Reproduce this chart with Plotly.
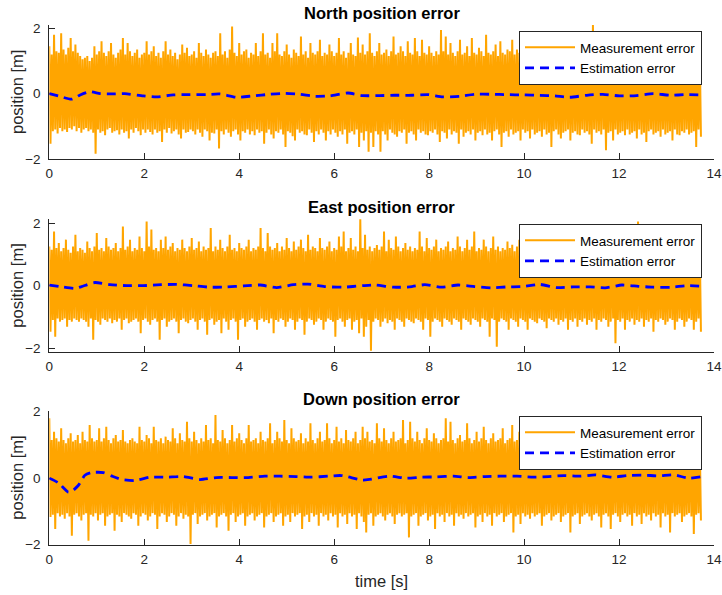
import numpy as np
import plotly.graph_objects as go
from plotly.subplots import make_subplots

# Measurement error: per 0.05 s window, the highest and lowest sample [m]
PEAK_STEP = 0.05

north_meas_hi = [
    1.45, 1.2, 1.8, 1.3, 1.25, 1.85, 1.35, 1.2, 1.4, 1.7, 1.3, 1.5, 1.25, 1.15, 1.05, 1.1, 1.15, 1.0, 1.1, 1.45,
    1.2, 1.3, 1.6, 1.25, 1.15, 1.3, 1.55, 1.2, 1.1, 1.25, 1.35, 1.7, 1.2, 1.55, 1.3, 1.15, 1.25, 1.35, 1.1, 1.2,
    1.25, 1.6, 1.2, 1.3, 1.45, 1.15, 1.25, 1.1, 1.3, 1.6, 1.2, 1.35, 1.15, 1.25, 1.05, 1.2, 1.5, 1.25, 1.4, 1.15,
    1.2, 1.3, 1.1, 1.55, 1.25, 1.15, 1.35, 1.2, 1.1, 1.25, 1.3, 1.15, 1.85, 1.2, 1.3, 1.1, 1.35, 2.05, 1.25, 1.15,
    1.55, 1.2, 1.3, 1.35, 1.1, 1.25, 1.2, 1.55, 1.15, 1.3, 1.85, 1.2, 1.25, 1.1, 1.55, 1.3, 1.85, 1.2, 1.15, 1.3,
    1.5, 1.2, 1.1, 1.35, 1.25, 1.15, 1.75, 1.2, 1.3, 1.1, 1.55, 1.25, 1.2, 1.3, 1.65, 1.15, 1.25, 1.2, 1.5, 1.3,
    1.15, 1.25, 1.7, 1.2, 1.3, 1.1, 1.25, 1.55, 1.2, 1.15, 1.72, 1.25, 1.5, 1.2, 1.3, 1.85, 1.25, 1.15, 1.3, 1.55,
    1.2, 1.25, 1.35, 1.15, 1.3, 1.75, 1.2, 1.25, 1.45, 1.3, 1.15, 1.6, 1.25, 1.2, 1.7, 1.3, 1.15, 1.65, 1.25, 1.2,
    1.45, 1.25, 1.15, 1.3, 1.2, 1.95, 1.3, 1.75, 1.2, 1.55, 1.25, 1.15, 1.3, 1.65, 1.2, 1.25, 1.45, 1.15, 1.7, 1.25,
    1.2, 1.4, 1.3, 1.15, 1.8, 1.25, 1.2, 1.3, 1.5, 1.15, 1.6, 1.25, 1.2, 1.35, 1.3, 1.65, 1.2, 1.35, 1.25, 1.15,
    1.3, 1.2, 1.45, 1.25, 1.15, 1.3, 1.5, 1.2, 1.25, 1.1, 1.35, 1.6, 1.2, 1.3, 1.15, 1.25, 1.4, 1.2, 1.3, 1.15,
    1.25, 1.5, 1.2, 1.3, 1.15, 1.35, 1.25, 1.2, 1.45, 2.1, 1.3, 1.2, 1.25, 1.6, 1.15, 1.3, 1.2, 1.4, 1.25, 1.15,
    1.3, 1.2, 1.55, 1.25, 1.15, 1.35, 1.2, 1.3, 1.5, 1.2, 1.25, 1.9, 1.2, 1.3, 1.15, 1.45, 1.25, 1.2, 1.35, 1.2,
    1.3, 1.15, 1.5, 1.25, 1.2, 1.35, 1.15, 1.6, 1.25, 1.2, 1.3, 1.45, 1.2, 1.25, 1.4,
]
north_meas_lo = [
    -1.53, -1.15, -1.1, -1.22, -1.05, -1.15, -1.1, -1.17, -1.05, -1.1, -1.0, -1.15, -1.05, -1.2, -1.1, -1.05, -1.15, -1.1, -1.2, -1.84,
    -1.1, -1.2, -1.15, -1.27, -1.1, -1.05, -1.2, -1.15, -1.12, -1.25, -1.1, -1.2, -1.15, -1.37, -1.1, -1.2, -1.05, -1.15, -1.27, -1.1,
    -1.2, -1.1, -1.17, -1.25, -1.1, -1.2, -1.15, -1.48, -1.1, -1.2, -1.05, -1.22, -1.15, -1.1, -1.25, -1.37, -1.1, -1.2, -1.17, -1.1,
    -1.15, -1.25, -1.1, -1.2, -1.32, -1.1, -1.15, -1.43, -1.2, -1.22, -1.1, -1.68, -1.15, -1.25, -1.1, -1.2, -1.32, -1.15, -1.1, -1.25,
    -1.43, -1.15, -1.2, -1.1, -1.25, -1.15, -1.27, -1.1, -1.2, -1.15, -1.53, -1.2, -1.1, -1.25, -1.37, -1.15, -1.2, -1.1, -1.25, -1.63,
    -1.15, -1.2, -1.3, -1.43, -1.1, -1.2, -1.15, -1.25, -1.27, -1.1, -1.2, -1.48, -1.15, -1.25, -1.1, -1.2, -1.43, -1.15, -1.25, -1.1,
    -1.2, -1.32, -1.15, -1.25, -1.1, -1.53, -1.2, -1.15, -1.25, -1.1, -1.63, -1.2, -1.43, -1.15, -1.78, -1.2, -1.63, -1.15, -1.25, -1.78,
    -1.15, -1.25, -1.43, -1.1, -1.2, -1.25, -1.32, -1.15, -1.2, -1.1, -1.53, -1.2, -1.15, -1.25, -1.43, -1.1, -1.2, -1.15, -1.25, -1.27,
    -1.15, -1.2, -1.1, -1.25, -1.48, -1.15, -1.2, -1.37, -1.1, -1.25, -1.15, -1.2, -1.53, -1.1, -1.32, -1.2, -1.15, -1.25, -1.1, -1.43,
    -1.2, -1.15, -1.27, -1.1, -1.25, -1.2, -1.43, -1.15, -1.1, -1.25, -1.63, -1.2, -1.15, -1.32, -1.1, -1.25, -1.2, -1.15, -1.43, -1.1,
    -1.2, -1.15, -1.37, -1.1, -1.25, -1.2, -1.15, -1.32, -1.1, -1.25, -1.2, -1.63, -1.15, -1.1, -1.25, -1.37, -1.2, -1.15, -1.1, -1.43,
    -1.2, -1.15, -1.25, -1.27, -1.1, -1.2, -1.15, -1.25, -1.53, -1.1, -1.2, -1.15, -1.25, -1.1, -1.73, -1.2, -1.15, -1.43, -1.1, -1.25,
    -1.2, -1.15, -1.27, -1.1, -1.25, -1.2, -1.15, -1.37, -1.1, -1.25, -1.2, -1.48, -1.15, -1.1, -1.25, -1.2, -1.15, -1.32, -1.1, -1.25,
    -1.2, -1.15, -1.43, -1.1, -1.25, -1.27, -1.15, -1.2, -1.1, -1.25, -1.2, -1.15, -1.63, -1.1, -1.32,
]

east_meas_hi = [
    1.25, 1.15, 1.73, 1.2, 1.36, 1.1, 1.2, 1.47, 1.15, 1.05, 1.25, 1.63, 1.1, 1.2, 1.15, 1.05, 1.41, 1.2, 1.1, 1.25,
    1.68, 1.15, 1.2, 1.1, 1.52, 1.25, 1.15, 1.2, 1.36, 1.1, 1.2, 1.89, 1.15, 1.25, 1.47, 1.1, 1.2, 1.15, 1.57, 1.2,
    1.1, 2.05, 1.25, 1.79, 1.15, 1.2, 1.1, 1.47, 1.2, 1.57, 1.15, 1.25, 1.36, 1.1, 1.2, 1.15, 1.47, 1.2, 1.1, 1.25,
    1.52, 1.15, 1.2, 1.41, 1.1, 1.25, 1.15, 1.2, 1.84, 1.1, 1.25, 1.15, 1.47, 1.2, 1.1, 1.25, 1.63, 1.15, 1.2, 1.1,
    1.36, 1.2, 1.15, 1.25, 1.47, 1.1, 1.2, 1.15, 1.25, 1.84, 1.2, 1.1, 1.68, 1.25, 1.15, 1.2, 1.36, 1.1, 1.25, 1.15,
    1.52, 1.2, 1.1, 1.41, 1.15, 1.25, 1.47, 1.2, 1.1, 1.63, 1.15, 1.25, 1.2, 1.1, 1.52, 1.2, 1.15, 1.25, 1.41, 1.1,
    1.2, 1.15, 1.57, 1.25, 1.73, 1.1, 1.2, 1.52, 1.15, 1.25, 1.1, 2.16, 1.2, 1.63, 1.15, 1.25, 1.1, 1.2, 1.3, 1.15,
    1.25, 1.73, 1.1, 1.47, 1.2, 1.15, 1.57, 1.25, 1.1, 1.2, 1.36, 1.15, 1.25, 1.1, 1.2, 1.15, 1.73, 1.25, 1.1, 1.52,
    1.2, 1.15, 1.25, 1.47, 1.1, 1.2, 1.15, 1.25, 1.41, 1.1, 1.2, 1.15, 1.57, 1.25, 1.1, 1.2, 1.47, 1.15, 1.25, 1.73,
    1.1, 1.2, 1.15, 1.47, 1.25, 1.1, 1.2, 1.57, 1.15, 1.25, 1.1, 1.2, 1.15, 1.41, 1.2, 1.31, 1.1, 1.25, 1.47, 1.2,
    1.15, 1.35, 1.2, 1.1, 1.25, 1.5, 1.15, 1.2, 1.1, 1.3, 1.25, 1.15, 1.45, 1.2, 1.1, 1.25, 1.2, 1.55, 1.15, 1.2,
    1.1, 1.25, 1.4, 1.15, 1.2, 1.3, 1.1, 1.25, 1.2, 1.5, 1.15, 1.2, 1.1, 1.35, 1.25, 1.15, 1.2, 1.45, 1.1, 1.25,
    1.2, 1.15, 1.3, 1.25, 1.1, 1.2, 1.4, 1.15, 2.05, 1.2, 1.1, 1.25, 1.35, 1.15, 1.2, 1.1, 1.5, 1.25, 1.15, 1.2,
    1.1, 1.3, 1.2, 1.15, 1.45, 1.25, 1.1, 1.2, 1.35, 1.15, 1.25, 1.1, 1.4, 1.2, 1.3,
]
east_meas_lo = [
    -1.47, -1.1, -1.63, -1.05, -1.15, -1.1, -1.05, -1.31, -1.1, -1.15, -1.05, -1.1, -1.15, -1.05, -1.1, -1.15, -1.31, -1.05, -1.73, -1.1,
    -1.15, -1.25, -1.05, -1.1, -1.15, -1.05, -1.2, -1.1, -1.15, -1.05, -1.41, -1.1, -1.05, -1.2, -1.15, -1.1, -1.05, -1.15, -1.52, -1.1,
    -1.05, -1.15, -1.25, -1.1, -1.05, -1.15, -1.73, -1.1, -1.05, -1.31, -1.15, -1.1, -1.05, -1.15, -1.52, -1.1, -1.05, -1.15, -1.2, -1.1,
    -1.05, -1.15, -1.41, -1.1, -1.05, -1.15, -1.57, -1.1, -1.05, -1.25, -1.15, -1.1, -1.52, -1.05, -1.15, -1.41, -1.1, -1.05, -1.15, -1.73,
    -1.1, -1.05, -1.31, -1.15, -1.1, -1.05, -1.15, -1.41, -1.1, -1.05, -1.15, -1.1, -1.2, -1.05, -1.52, -1.1, -1.15, -1.05, -1.1, -1.31,
    -1.15, -1.05, -1.1, -1.41, -1.15, -1.05, -1.1, -1.57, -1.15, -1.05, -1.1, -1.25, -1.15, -1.05, -1.1, -1.41, -1.15, -1.05, -1.1, -1.15,
    -1.63, -1.1, -1.05, -1.15, -1.31, -1.1, -1.05, -1.41, -1.15, -1.1, -1.52, -1.05, -1.63, -1.31, -1.1, -2.08, -1.15, -1.05, -1.1, -1.31,
    -1.15, -1.05, -1.2, -1.1, -1.15, -1.41, -1.05, -1.1, -1.15, -1.31, -1.05, -1.1, -1.15, -1.2, -1.05, -1.1, -1.15, -1.41, -1.05, -1.1,
    -1.63, -1.15, -1.05, -1.1, -1.15, -1.31, -1.05, -1.1, -1.15, -1.25, -1.05, -1.1, -1.15, -1.41, -1.05, -1.1, -1.15, -1.25, -1.05, -1.1,
    -1.15, -1.31, -1.05, -1.1, -1.15, -1.63, -1.05, -1.1, -1.95, -1.15, -1.05, -1.1, -1.15, -1.41, -1.05, -1.1, -1.15, -1.31, -1.05, -1.1,
    -1.15, -1.41, -1.05, -1.1, -1.15, -1.2, -1.05, -1.1, -1.15, -1.36, -1.05, -1.1, -1.15, -1.05, -1.25, -1.1, -1.15, -1.05, -1.41, -1.1,
    -1.15, -1.05, -1.31, -1.1, -1.15, -1.05, -1.25, -1.1, -1.15, -1.05, -1.41, -1.1, -1.15, -1.05, -1.1, -1.31, -1.15, -1.05, -1.84, -1.1,
    -1.15, -1.05, -1.41, -1.1, -1.15, -1.05, -1.25, -1.1, -1.15, -1.05, -1.31, -1.1, -1.15, -1.05, -1.47, -1.1, -1.15, -1.05, -1.1, -1.25,
    -1.15, -1.05, -1.1, -1.41, -1.15, -1.05, -1.1, -1.31, -1.15, -1.05, -1.1, -1.41, -1.15, -1.05, -1.47,
]

down_meas_hi = [
    1.8, 1.15, 1.4, 1.2, 1.1, 1.5, 1.15, 1.05, 1.2, 1.35, 1.1, 1.15, 1.3, 1.05, 1.4, 1.15, 1.1, 1.6, 1.2, 1.1,
    1.15, 1.5, 1.1, 1.2, 1.55, 1.15, 1.05, 1.2, 1.3, 1.1, 1.15, 1.45, 1.1, 1.05, 1.15, 1.2, 1.1, 1.05, 1.55, 1.15,
    1.1, 1.3, 1.2, 1.05, 1.55, 1.15, 1.1, 1.2, 1.05, 1.25, 1.15, 1.1, 1.5, 1.2, 1.05, 1.35, 1.15, 1.1, 1.7, 1.2,
    1.1, 1.4, 1.15, 1.05, 1.2, 1.1, 1.6, 1.15, 1.2, 1.05, 1.9, 1.15, 1.1, 1.45, 1.2, 1.05, 1.15, 1.6, 1.1, 1.2,
    1.35, 1.15, 1.05, 1.2, 1.6, 1.1, 1.15, 1.2, 1.05, 1.4, 1.15, 1.1, 1.2, 1.65, 1.05, 1.15, 1.4, 1.2, 1.1, 1.75,
    1.15, 1.05, 1.5, 1.2, 1.1, 1.15, 1.35, 1.05, 1.2, 1.1, 1.65, 1.15, 1.05, 1.2, 1.4, 1.1, 1.15, 1.65, 1.2, 1.05,
    1.15, 1.55, 1.1, 1.2, 1.05, 1.45, 1.15, 1.1, 1.2, 1.4, 1.05, 1.15, 1.55, 1.2, 1.4, 1.1, 1.15, 1.05, 1.65, 1.2,
    1.1, 1.5, 1.15, 1.05, 1.2, 1.4, 1.1, 1.15, 1.2, 1.75, 1.05, 1.15, 1.7, 1.2, 1.1, 1.4, 1.15, 1.05, 1.2, 1.5,
    1.15, 1.1, 1.35, 1.2, 1.05, 1.15, 1.2, 1.8, 1.1, 1.7, 1.15, 1.05, 1.2, 1.3, 1.1, 1.15, 1.65, 1.2, 1.05, 1.15,
    1.4, 1.1, 1.2, 1.55, 1.15, 1.05, 1.2, 1.35, 1.1, 1.15, 1.2, 1.5, 1.05, 1.15, 1.2, 1.6, 1.1, 1.15, 1.4, 1.2,
    1.1, 1.3, 1.15, 1.2, 1.05, 1.45, 1.15, 1.1, 1.25, 1.2, 1.05, 1.5, 1.15, 1.2, 1.1, 1.35, 1.15, 1.05, 1.2, 1.4,
    1.15, 1.1, 1.25, 1.2, 1.05, 1.55, 1.15, 1.1, 1.2, 1.3, 1.05, 1.15, 1.45, 1.2, 1.1, 1.15, 1.35, 1.05, 1.2, 1.5,
    1.15, 1.1, 1.2, 1.3, 1.05, 1.15, 1.45, 1.2, 1.1, 1.25, 1.15, 1.05, 1.4, 1.2, 1.1, 1.15, 1.85, 1.2, 1.05, 1.3,
    1.15, 1.2, 1.1, 1.45, 1.15, 1.05, 1.2, 1.35, 1.1, 1.15, 1.5, 1.2, 1.05, 1.3, 1.15,
]
down_meas_lo = [
    -1.17, -1.1, -1.53, -1.05, -1.15, -1.1, -1.22, -1.05, -1.15, -1.73, -1.1, -1.05, -1.15, -1.27, -1.1, -1.05, -1.88, -1.1, -1.15, -1.05,
    -1.27, -1.1, -1.05, -1.43, -1.15, -1.1, -1.05, -1.58, -1.1, -1.15, -1.32, -1.05, -1.1, -1.15, -1.22, -1.05, -1.1, -1.43, -1.15, -1.05,
    -1.1, -1.27, -1.15, -1.05, -1.1, -1.53, -1.15, -1.05, -1.1, -1.32, -1.15, -1.05, -1.1, -1.43, -1.15, -1.05, -1.22, -1.1, -1.15, -1.98,
    -1.1, -1.05, -1.38, -1.15, -1.1, -1.05, -1.27, -1.15, -1.1, -1.05, -1.48, -1.15, -1.1, -1.05, -1.15, -1.58, -1.1, -1.05, -1.32, -1.15,
    -1.1, -1.05, -1.43, -1.15, -1.1, -1.05, -1.27, -1.15, -1.1, -1.05, -1.48, -1.15, -1.1, -1.05, -1.32, -1.15, -1.1, -1.05, -1.43, -1.15,
    -1.1, -1.32, -1.05, -1.15, -1.1, -1.05, -1.53, -1.15, -1.1, -1.32, -1.05, -1.15, -1.1, -1.43, -1.05, -1.15, -1.1, -1.27, -1.05, -1.15,
    -1.1, -1.48, -1.05, -1.15, -1.1, -1.38, -1.05, -1.15, -1.1, -1.53, -1.05, -1.15, -1.32, -1.63, -1.1, -1.05, -1.43, -1.15, -1.1, -1.05,
    -1.15, -1.27, -1.1, -1.05, -1.15, -1.38, -1.1, -1.05, -1.15, -1.1, -1.05, -1.78, -1.15, -1.1, -1.05, -1.43, -1.15, -1.1, -1.05, -1.27,
    -1.15, -1.1, -1.53, -1.05, -1.15, -1.1, -1.32, -1.05, -1.15, -1.1, -1.43, -1.05, -1.15, -1.1, -1.22, -1.05, -1.15, -1.1, -1.05, -1.48,
    -1.15, -1.1, -1.32, -1.05, -1.15, -1.1, -1.43, -1.05, -1.15, -1.1, -1.05, -1.32, -1.15, -1.1, -1.05, -1.63, -1.15, -1.1, -1.38, -1.05,
    -1.15, -1.1, -1.22, -1.05, -1.15, -1.1, -1.05, -1.43, -1.15, -1.1, -1.05, -1.27, -1.15, -1.1, -1.05, -1.32, -1.15, -1.1, -1.05, -1.63,
    -1.15, -1.1, -1.05, -1.38, -1.15, -1.1, -1.05, -1.15, -1.27, -1.1, -1.05, -1.15, -1.48, -1.1, -1.05, -1.15, -1.53, -1.1, -1.05, -1.15,
    -1.32, -1.1, -1.05, -1.15, -1.1, -1.43, -1.05, -1.15, -1.1, -1.38, -1.05, -1.15, -1.1, -1.27, -1.05, -1.15, -1.1, -1.48, -1.05, -1.15,
    -1.1, -1.63, -1.05, -1.15, -1.1, -1.05, -1.32, -1.15, -1.1, -1.05, -1.15, -1.68, -1.1, -1.05, -1.27,
]

# Estimation error (filter output minus truth) [m]
north_est_t = [0, 0.19, 0.47, 0.65, 0.86, 1.07, 1.28, 1.59, 1.98, 2.26, 2.61, 2.96, 3.31, 3.59, 3.94,
               4.29, 4.65, 4.96, 5.28, 5.59, 5.91, 6.29, 6.6, 6.96, 7.28, 7.64, 7.98, 8.29, 8.64, 8.96,
               9.32, 9.64, 9.98, 10.33, 10.65, 10.96, 11.32, 11.66, 12.01, 12.37, 12.72, 13.07, 13.42, 13.74]
north_est = [0, -0.07, -0.17, -0.04, 0.06, 0.0, -0.01, 0.0, -0.07, -0.1, -0.04, -0.03, -0.03, -0.01, -0.11,
             -0.07, -0.02, 0.01, -0.02, -0.08, -0.07, 0.02, -0.06, -0.06, -0.05, -0.05, -0.03, -0.1, -0.08, -0.02,
             -0.02, -0.03, -0.04, -0.05, -0.07, -0.11, -0.05, -0.02, -0.07, -0.06, 0.0, -0.05, -0.03, -0.04]

east_est_t = [0, 0.22, 0.54, 0.68, 0.96, 1.28, 1.63, 1.98, 2.36, 2.68, 3.03, 3.38, 3.74, 4.09, 4.44,
              4.79, 5.14, 5.45, 5.8, 6.19, 6.6, 6.85, 7.24, 7.59, 7.91, 8.26, 8.61, 8.96, 9.32, 9.64,
              9.98, 10.33, 10.68, 11.04, 11.39, 11.71, 12.06, 12.41, 12.72, 13.11, 13.42, 13.74]
east_est = [0.02, -0.03, -0.09, -0.03, 0.1, 0.03, 0.0, 0.0, 0.03, 0.04, 0.0, -0.05, -0.04, -0.01, 0.02,
            -0.06, 0.03, 0.05, -0.03, -0.05, 0.0, 0.02, -0.05, -0.04, 0.03, -0.05, 0.02, -0.03, -0.07, -0.04,
            -0.03, 0.04, -0.06, -0.04, -0.04, -0.07, 0.02, -0.02, -0.05, -0.05, 0.0, -0.02]

down_est_t = [0, 0.19, 0.4, 0.47, 0.61, 0.75, 0.89, 1.14, 1.31, 1.52, 1.8, 2.12, 2.47, 2.82, 3.17, 3.52,
              3.84, 4.19, 4.54, 4.86, 5.21, 5.52, 5.87, 6.15, 6.6, 6.78, 7.16, 7.52, 7.84, 8.16, 8.51,
              8.83, 9.18, 9.5, 9.85, 10.2, 10.52, 10.84, 11.19, 11.5, 11.86, 12.17, 12.52, 12.84, 13.15,
              13.47, 13.75]
down_est = [0, -0.14, -0.42, -0.4, -0.22, 0.09, 0.17, 0.17, 0.07, -0.04, -0.07, 0.03, 0.03, 0.05, -0.04, 0.02,
            0.02, 0.02, 0.06, 0.06, 0.05, 0.03, 0.06, 0.08, -0.06, -0.03, 0.06, 0.0, 0.03, 0.04, 0.06,
            0.02, 0.05, 0.06, 0.06, 0.03, 0.05, 0.08, 0.06, 0.1, 0.03, 0.08, 0.09, 0.07, 0.1,
            0.0, 0.05]

titles = ["North position error", "East position error", "Down position error"]
x_ticks = [0, 2, 4, 6, 8, 10, 12, 14]
y_ticks = [-2, 0, 2]

W, H = 722, 595
ORANGE = "#FFA500"
BLUE = "#0000FF"
AX = "#262626"
FONT = "Liberation Sans, Arial, Helvetica, sans-serif"


def meas_trace(hi, lo):
    """Interleave window maxima and minima into one sampled trace."""
    n = min(len(hi), len(lo))
    y = np.empty(2 * n)
    y[0::2] = hi[:n]
    y[1::2] = lo[:n]
    t = np.arange(2 * n) * (PEAK_STEP / 2)
    return t, y


# (peaks, troughs, est times, est values, y range, axes top/bottom px, legend top px)
panels = [
    (north_meas_hi, north_meas_lo, north_est_t, north_est, (-2.0, 2.1), (25.0, 159.0), 31),
    (east_meas_hi, east_meas_lo, east_est_t, east_est, (-2.12, 2.12), (219.3, 352.0), 224),
    (down_meas_hi, down_meas_lo, down_est_t, down_est, (-2.0, 2.03), (410.7, 544.7), 416),
]

fig = make_subplots(rows=3, cols=1)

x_dom = [49.3 / W, 714.0 / W]
legend_names = ["legend", "legend2", "legend3"]

layout_upd = {}
annotations = []
for i, (hi, lo, et, ev, yr, (ytop, ybot), leg_top) in enumerate(panels):
    r = i + 1
    leg = legend_names[i]
    t, y = meas_trace(hi, lo)
    fig.add_trace(go.Scatter(x=t, y=y, mode="lines", name="Measurement error",
                             line=dict(color=ORANGE, width=2.0), legend=leg), row=r, col=1)
    fig.add_trace(go.Scatter(x=et, y=ev, mode="lines", name="Estimation error",
                             line=dict(color=BLUE, width=2.8, dash="9px,6px", shape="spline",
                                       smoothing=0.6), legend=leg), row=r, col=1)

    fig.update_xaxes(row=r, col=1, domain=x_dom, range=[0, 14], tickvals=x_ticks,
                     showline=True, linecolor=AX, linewidth=1, mirror=False,
                     ticks="inside", ticklen=6, tickcolor=AX, tickwidth=1,
                     showgrid=False, zeroline=False, layer="below traces",
                     automargin=False, ticklabelstandoff=2,
                     tickfont=dict(family=FONT, size=13.5, color=AX))
    fig.update_yaxes(row=r, col=1, domain=[1 - ybot / H, 1 - ytop / H], range=list(yr),
                     tickvals=y_ticks, showline=True, linecolor=AX, linewidth=1, mirror=False,
                     ticks="inside", ticklen=6, tickcolor=AX, tickwidth=1,
                     showgrid=False, zeroline=False, layer="below traces",
                     automargin=False, ticklabelstandoff=5,
                     tickfont=dict(family=FONT, size=13.5, color=AX))

    layout_upd[leg] = dict(x=702 / W, y=1 - leg_top / H, xanchor="right", yanchor="top",
                           bgcolor="white", bordercolor=AX, borderwidth=1,
                           font=dict(family=FONT, size=13.5, color="black"),
                           itemwidth=50, tracegroupgap=0)

    ymid = (ytop + ybot) / 2
    annotations.append(dict(text=f"<b>{titles[i]}</b>", x=381.5 / W, y=1 - (ytop - 12) / H,
                            xref="paper", yref="paper", xanchor="center", yanchor="middle",
                            showarrow=False, font=dict(family=FONT, size=16.5, color="black")))
    annotations.append(dict(text="position [m]", x=17 / W, y=1 - ymid / H, textangle=-90,
                            xref="paper", yref="paper", xanchor="center", yanchor="middle",
                            showarrow=False, font=dict(family=FONT, size=16.5, color=AX)))

annotations.append(dict(text="time [s]", x=381.5 / W, y=1 - 581 / H,
                        xref="paper", yref="paper", xanchor="center", yanchor="middle",
                        showarrow=False, font=dict(family=FONT, size=16.5, color=AX)))

fig.update_layout(width=W, height=H, margin=dict(l=0, r=0, t=0, b=0, autoexpand=False),
                  paper_bgcolor="white", plot_bgcolor="white",
                  annotations=annotations, **layout_upd)

fig.write_html("out.html")
